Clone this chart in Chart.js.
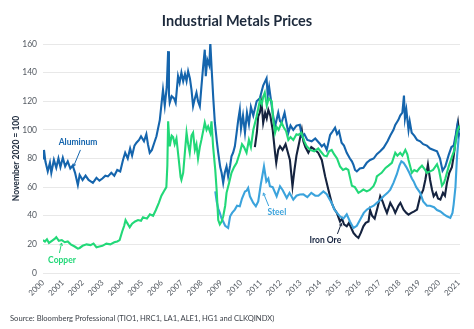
<!DOCTYPE html>
<html>
<head>
<meta charset="utf-8">
<title>Industrial Metals Prices</title>
<script src="https://cdn.jsdelivr.net/npm/chart.js@4.4.1/dist/chart.umd.min.js"></script>
<style>
  body { margin: 0; background: #fff; font-family: Lato, "Open Sans", sans-serif; }
  .wrap { position: relative; width: 474px; height: 329px; overflow: hidden; }
  .wrap canvas { position: absolute; left: 0; top: 0; }
  h1 { position: absolute; left: 0; top: 12px; width: 474px; margin: 0; text-align: center;
       font-size: 14.5px; line-height: 17px; font-weight: 700; color: #1d2a3c; }
  .source { position: absolute; left: 10px; top: 313px; font-size: 7.6px; line-height: 10px; color: #3a3f47; }
</style>
</head>
<body>
<div class="wrap">
  <canvas id="metals" width="474" height="329"></canvas>
  <h1>Industrial Metals Prices</h1>
  <div class="source">Source: Bloomberg Professional (TIO1, HRC1, LA1, ALE1, HG1 and CLKQINDX)</div>
</div>
<script>
// index level, November 2020 = 100, as [year, value]
const aluminum = [
  [2000.00,80],[2000.05,86],[2000.12,78],[2000.24,71],[2000.35,77],[2000.42,70],[2000.55,79],
  [2000.67,73.5],[2000.78,80],[2000.88,74],[2001.00,80.5],[2001.12,74.5],[2001.25,78],[2001.38,73],
  [2001.50,75],[2001.62,70],[2001.76,61.5],[2001.85,68.5],[2002.00,65],[2002.15,68],[2002.30,65],
  [2002.52,63],[2002.70,66.5],[2002.85,64.5],[2003.00,66],[2003.15,68],[2003.28,67.5],[2003.45,70],
  [2003.60,68],[2003.75,72],[2003.90,71],[2004.04,79],[2004.15,84],[2004.28,80],[2004.40,87],
  [2004.50,82],[2004.62,89],[2004.72,91],[2004.85,93],[2004.95,95.5],[2005.10,92],[2005.22,97],
  [2005.30,90],[2005.39,84],[2005.50,86],[2005.62,91],[2005.73,95.5],[2005.90,107],[2006.06,128],
  [2006.15,117],[2006.25,130],[2006.32,155],[2006.36,125],[2006.40,119],[2006.50,123.5],[2006.62,122],
  [2006.70,119],[2006.82,137.5],[2006.90,133],[2006.99,140],[2007.08,134],[2007.17,139],[2007.25,134],
  [2007.33,141],[2007.42,136],[2007.50,128],[2007.58,116.5],[2007.67,122],[2007.75,126],[2007.83,120],
  [2007.92,116.5],[2008.00,130],[2008.09,144.5],[2008.17,156],[2008.22,137.5],[2008.30,149],[2008.40,145],
  [2008.45,161],[2008.52,142],[2008.60,122],[2008.68,105],[2008.78,92],[2008.85,84],[2008.95,74],
  [2009.02,70],[2009.10,63],[2009.18,70],[2009.27,74.5],[2009.35,67.5],[2009.45,75],[2009.52,81.5],
  [2009.60,84],[2009.69,88.5],[2009.78,98],[2009.86,107],[2009.94,114],[2010.00,101],[2010.10,110],
  [2010.20,98],[2010.30,112],[2010.40,104],[2010.50,116],[2010.62,110],[2010.79,120],[2010.95,122],
  [2011.12,131],[2011.29,136],[2011.35,124],[2011.42,130],[2011.52,120],[2011.62,110],[2011.72,102.5],
  [2011.88,112],[2011.97,106],[2012.05,105],[2012.20,112],[2012.39,98],[2012.50,103],[2012.64,100],
  [2012.80,103],[2012.97,103.5],[2013.07,95.5],[2013.20,97],[2013.35,93],[2013.57,92],[2013.75,94],
  [2013.97,90.5],[2014.08,88.5],[2014.20,90],[2014.33,86],[2014.50,96.5],[2014.58,98],[2014.75,101.5],
  [2014.85,97],[2014.95,99],[2015.08,91],[2015.20,89],[2015.34,84],[2015.50,80],[2015.60,78],
  [2015.68,75.5],[2015.76,72],[2015.85,71],[2016.00,73],[2016.18,73.5],[2016.35,77],[2016.52,79],
  [2016.70,80],[2016.86,83],[2017.03,85],[2017.20,87.5],[2017.40,92],[2017.54,96],[2017.70,100],
  [2017.79,103.5],[2017.95,107],[2018.04,110],[2018.15,112],[2018.23,124],[2018.28,108],[2018.35,114],
  [2018.46,100],[2018.52,106],[2018.62,98],[2018.75,96],[2018.89,93],[2019.05,92],[2019.20,90],
  [2019.39,89],[2019.55,87],[2019.73,86],[2019.90,85],[2020.05,80],[2020.18,71.5],[2020.25,73],
  [2020.32,74.5],[2020.49,82.5],[2020.63,88],[2020.74,89],[2020.85,97],[2020.92,103],[2020.98,96],
  [2021.04,98]
];

const copper = [
  [2000.00,23],[2000.10,22],[2000.20,23.5],[2000.30,21],[2000.45,22.5],[2000.60,24],[2000.67,25],
  [2000.80,22.5],[2000.95,23],[2001.10,21.5],[2001.25,22],[2001.40,20],[2001.60,18.5],[2001.76,17],
  [2001.85,17.5],[2002.00,19],[2002.20,20],[2002.40,19.5],[2002.55,20.5],[2002.70,18],[2002.85,18.5],
  [2003.00,19],[2003.20,20.5],[2003.40,20],[2003.60,21.5],[2003.75,22],[2003.87,23],[2004.00,29],
  [2004.10,33],[2004.17,37],[2004.25,35],[2004.38,32],[2004.50,34.5],[2004.65,36],[2004.80,37],
  [2004.95,36.5],[2005.05,39],[2005.25,38],[2005.40,41],[2005.56,40],[2005.70,44],[2005.85,49],
  [2005.98,54],[2006.10,57],[2006.23,60],[2006.28,75],[2006.32,106],[2006.37,95],[2006.40,88.5],
  [2006.50,96],[2006.57,95],[2006.65,90],[2006.74,94],[2006.85,80],[2006.95,67],[2006.99,65],
  [2007.08,70],[2007.17,85],[2007.25,98],[2007.33,90],[2007.41,84],[2007.50,96],[2007.58,98],
  [2007.67,86],[2007.75,90],[2007.83,80],[2007.92,88],[2008.00,93],[2008.10,100],[2008.17,105],
  [2008.26,100],[2008.34,102.5],[2008.45,98],[2008.51,106],[2008.59,88.5],[2008.70,72],[2008.77,58],
  [2008.85,37],[2008.93,34],[2009.02,36],[2009.10,39.5],[2009.20,47],[2009.27,56],[2009.40,63],
  [2009.52,70],[2009.65,74],[2009.78,77],[2009.94,84],[2010.05,90],[2010.15,88],[2010.28,84],
  [2010.40,93],[2010.50,88],[2010.62,100],[2010.79,109.5],[2010.96,121],[2011.05,118],[2011.12,123],
  [2011.20,126],[2011.30,117],[2011.40,122],[2011.55,120],[2011.62,108],[2011.72,98],[2011.80,102],
  [2011.90,100],[2012.05,105],[2012.15,102],[2012.28,99],[2012.39,93],[2012.50,95],[2012.64,93],
  [2012.80,97],[2012.90,96.5],[2013.05,98],[2013.20,92],[2013.32,88.5],[2013.50,86],[2013.70,85],
  [2013.90,87],[2014.08,84],[2014.20,82],[2014.33,81.5],[2014.45,85],[2014.58,86],[2014.70,83],
  [2014.85,80],[2015.00,74.5],[2015.15,72],[2015.30,73],[2015.42,72],[2015.50,67],[2015.60,61],
  [2015.75,60],[2015.93,56],[2016.05,57],[2016.18,58.3],[2016.35,57],[2016.50,58],[2016.69,60.6],
  [2016.80,64],[2016.86,67.5],[2017.00,69],[2017.10,70],[2017.30,73.4],[2017.45,75],[2017.62,77],
  [2017.79,84],[2017.90,82],[2018.04,84],[2018.15,82],[2018.30,86],[2018.40,83],[2018.46,79],
  [2018.63,70],[2018.75,72],[2018.89,71],[2019.00,73],[2019.14,75],[2019.30,72],[2019.39,70],
  [2019.55,71],[2019.70,72],[2019.90,76],[2020.00,72],[2020.15,61],[2020.25,63],[2020.32,66],
  [2020.49,74.5],[2020.66,81.5],[2020.78,86],[2020.88,96],[2020.95,100],[2021.04,103]
];

const steel = [
  [2008.70,57],[2008.77,50],[2008.85,45],[2008.93,42],[2009.02,38],[2009.10,36],[2009.20,33],
  [2009.35,31.5],[2009.45,39.6],[2009.55,42],[2009.69,44.3],[2009.80,47],[2009.94,46.6],[2010.05,52],
  [2010.20,57],[2010.28,57.5],[2010.36,59.4],[2010.45,53.6],[2010.62,49],[2010.75,46.6],[2010.87,50],
  [2011.00,62],[2011.04,65],[2011.16,74.5],[2011.28,64],[2011.38,66],[2011.46,60.6],[2011.60,60],
  [2011.80,53.6],[2011.97,60.6],[2012.10,58],[2012.31,52.4],[2012.45,56],[2012.64,51.3],[2012.80,54],
  [2012.97,54.8],[2013.15,55],[2013.35,53],[2013.55,56],[2013.75,54],[2013.91,54],[2014.16,57],
  [2014.33,55],[2014.45,52],[2014.58,49],[2014.72,44.3],[2014.85,42],[2015.00,39.6],[2015.17,38],
  [2015.34,41],[2015.50,36],[2015.68,31.5],[2015.85,33],[2016.02,37.3],[2016.20,42],[2016.36,44.3],
  [2016.55,46],[2016.70,47],[2016.86,49],[2017.03,51],[2017.20,53.6],[2017.40,56],[2017.54,58.3],
  [2017.70,63],[2017.87,69],[2018.00,75],[2018.10,78],[2018.21,77],[2018.35,74],[2018.50,70],
  [2018.63,66],[2018.72,64],[2018.85,60],[2019.05,56],[2019.20,50],[2019.39,47],[2019.55,47],
  [2019.75,46],[2019.90,44],[2020.07,43],[2020.25,41],[2020.40,39.6],[2020.57,38.5],[2020.68,42],
  [2020.74,48],[2020.83,60],[2020.91,81.5],[2021.00,95.5],[2021.04,100]
];

const ironOre = [
  [2010.70,88],[2010.80,98],[2010.87,109.5],[2010.95,112],[2011.04,119],[2011.12,105],[2011.22,112],
  [2011.30,108],[2011.38,114],[2011.48,110],[2011.60,100],[2011.72,84],[2011.78,77],[2011.88,86],
  [2011.97,88.5],[2012.10,86],[2012.25,90],[2012.35,85],[2012.47,79],[2012.60,60.6],[2012.70,72],
  [2012.80,82],[2012.90,88.5],[2013.07,100],[2013.15,92],[2013.25,88],[2013.40,84],[2013.55,88],
  [2013.74,86],[2013.90,84],[2014.08,79],[2014.25,67.5],[2014.41,58.3],[2014.58,49],[2014.70,45],
  [2014.84,42],[2015.00,36],[2015.10,38],[2015.20,34],[2015.34,32.6],[2015.45,35],[2015.55,32],
  [2015.68,28],[2015.80,26],[2015.93,24.5],[2016.05,28],[2016.18,32.6],[2016.30,35],[2016.44,36],
  [2016.52,44],[2016.62,40],[2016.75,38],[2016.90,46],[2017.03,53.6],[2017.15,50],[2017.25,46],
  [2017.37,42],[2017.54,49],[2017.70,45],[2017.79,42],[2017.95,47],[2018.05,49],[2018.21,44.3],
  [2018.35,42],[2018.46,40.8],[2018.60,42],[2018.75,43],[2018.89,44.3],[2019.05,53.6],[2019.20,58],
  [2019.31,65.2],[2019.44,75.7],[2019.55,65],[2019.65,58],[2019.73,53.6],[2019.85,56],[2019.95,52],
  [2020.07,51.3],[2020.20,56],[2020.30,54],[2020.40,63],[2020.52,70],[2020.65,74],[2020.74,81.5],
  [2020.85,95],[2020.96,105],[2021.04,95.5]
];

const yearTicks = [2000,2001,2002,2003,2004,2005,2006,2007,2008,2009,2010,
                   2011,2012,2013,2014,2015,2016,2017,2018,2019,2020,2021];

const colors = {
  aluminum: '#1565ad',
  copper: '#22d878',
  steel: '#3ba3dc',
  ironOre: '#15233f'
};

// inline labels with a short pointer line, placed in data units
const notes = [
  { text: 'Aluminum', color: colors.aluminum, at: [2001.77, 91.5], from: [2001.89, 86],  to: [2001.54, 74.4] },
  { text: 'Copper',   color: colors.copper,   at: [2000.96, 8.6],  from: [2000.83, 14],  to: [2000.94, 21] },
  { text: 'Steel',    color: colors.steel,    at: [2011.81, 42.6], from: [2011.40, 46.8], to: [2011.13, 55.9] },
  { text: 'Iron Ore', color: colors.ironOre,  at: [2014.26, 23],   from: [2014.87, 27.3], to: [2015.07, 34.7] }
];

function toPoints(list) {
  return list.map(p => ({ x: p[0], y: p[1] }));
}

function series(label, list, color) {
  return {
    label: label,
    data: toPoints(list),
    borderColor: color,
    backgroundColor: color,
    borderWidth: 2.1,
    pointRadius: 0,
    tension: 0,
    fill: false
  };
}

const notesPlugin = {
  id: 'notes',
  afterDatasetsDraw(chart) {
    const ctx = chart.ctx;
    const x = chart.scales.x, y = chart.scales.y;
    ctx.save();
    notes.forEach(n => {
      ctx.font = 'bold 8.5px Lato, sans-serif';
      ctx.fillStyle = n.color;
      ctx.textAlign = 'center';
      ctx.textBaseline = 'middle';
      ctx.fillText(n.text, x.getPixelForValue(n.at[0]), y.getPixelForValue(n.at[1]));

      const x1 = x.getPixelForValue(n.from[0]), y1 = y.getPixelForValue(n.from[1]);
      const x2 = x.getPixelForValue(n.to[0]), y2 = y.getPixelForValue(n.to[1]);
      ctx.strokeStyle = n.color;
      ctx.lineWidth = 1;
      ctx.beginPath();
      ctx.moveTo(x1, y1);
      ctx.lineTo(x2, y2);
      // small arrow head
      const a = Math.atan2(y2 - y1, x2 - x1);
      ctx.moveTo(x2 - 3 * Math.cos(a - 0.5), y2 - 3 * Math.sin(a - 0.5));
      ctx.lineTo(x2, y2);
      ctx.lineTo(x2 - 3 * Math.cos(a + 0.5), y2 - 3 * Math.sin(a + 0.5));
      ctx.stroke();
    });
    ctx.restore();
  }
};

new Chart(document.getElementById('metals'), {
  type: 'line',
  data: {
    datasets: [
      series('Copper', copper, colors.copper),
      series('Aluminum', aluminum, colors.aluminum),
      series('Steel', steel, colors.steel),
      series('Iron Ore', ironOre, colors.ironOre)
    ]
  },
  options: {
    responsive: false,
    animation: false,
    devicePixelRatio: 1,
    layout: { padding: { top: 44, right: 14, bottom: 0, left: 0 } },
    plugins: {
      legend: { display: false },
      tooltip: { enabled: false }
    },
    scales: {
      x: {
        type: 'linear',
        min: 2000,
        max: 2021.06,
        afterBuildTicks: scale => { scale.ticks = yearTicks.map(v => ({ value: v })); },
        afterFit: scale => { scale.height = 56; },
        grid: { display: false, drawTicks: false },
        border: { display: false },
        ticks: {
          minRotation: 45,
          maxRotation: 45,
          padding: 5,
          autoSkip: false,
          color: '#555b63',
          font: { family: 'Lato', size: 8 },
          callback: v => String(v)
        }
      },
      y: {
        min: 0,
        max: 160,
        afterFit: scale => { scale.width = 43; },
        grid: { color: '#e8e8e8', lineWidth: 1, drawTicks: false },
        border: { display: false },
        ticks: {
          stepSize: 20,
          padding: 6,
          color: '#555b63',
          font: { family: 'Lato', size: 8.5 }
        },
        title: {
          display: true,
          text: 'November 2020 = 100',
          color: '#1d2a3c',
          font: { family: 'Lato', size: 8.5, weight: 'bold' },
          padding: { top: 11, bottom: 0 }
        }
      }
    }
  },
  plugins: [notesPlugin]
});
</script>
</body>
</html>
